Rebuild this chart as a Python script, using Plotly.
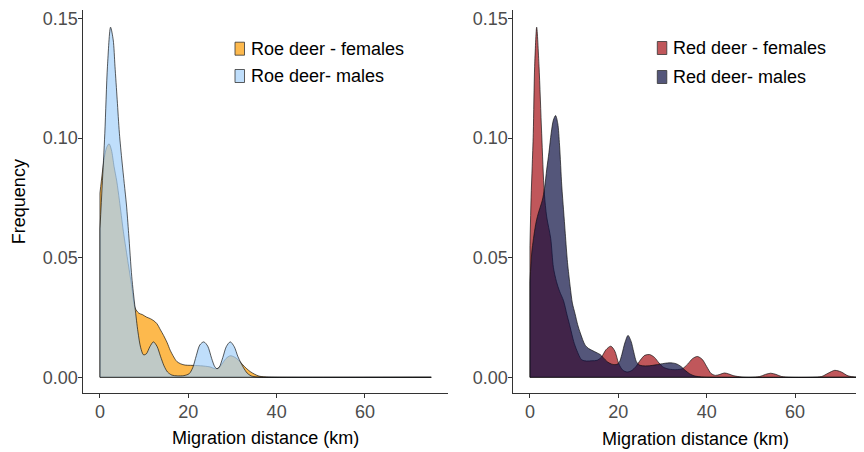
import plotly.graph_objects as go

# ---------------- data ----------------
# Roe deer - females (density)
roe_f_km = [0, 0.5, 1.0, 1.5, 2.05, 2.6, 3.2, 3.8, 4.4, 5.3, 6.4, 7.2, 7.95, 8.8, 9.6, 10.5,
            11.4, 12.2, 12.9, 13.7, 14.4, 15.2, 15.9, 16.7, 17.4, 18.3, 19.3, 20.5, 22.0, 23.5,
            25.0, 26.0, 26.8, 27.6, 28.5, 29.5, 30.4, 31.3, 32.2, 33.1, 34.0, 35.0, 36.0, 37.0,
            38.5, 40.0, 75.0]
roe_f_val = [0.077, 0.085, 0.092, 0.096, 0.0976, 0.095, 0.088, 0.082, 0.074, 0.061, 0.0475,
             0.038, 0.029, 0.0268, 0.0262, 0.0252, 0.0245, 0.0236, 0.0224, 0.0198, 0.0175,
             0.0145, 0.0113, 0.0085, 0.0066, 0.0056, 0.0051, 0.0050, 0.0049, 0.0047, 0.0043,
             0.0036, 0.0038, 0.0055, 0.0078, 0.0090, 0.0085, 0.0073, 0.0055, 0.0038, 0.0024,
             0.0013, 0.0005, 0.0002, 0.00005, 0.0, 0.0]

# Roe deer - males (density)
roe_m_km = [0, 0.5, 1.1, 1.7, 2.4, 3.0, 3.4, 3.9, 4.4, 5.0, 5.5, 6.0, 6.5, 7.2, 7.95, 8.6,
            9.2, 9.85, 10.5, 11.3, 12.1, 12.9, 13.7, 14.5, 15.3, 16.3, 17.5, 19.0, 20.2, 21.0,
            21.8, 22.6, 23.5, 24.4, 25.3, 26.0, 26.5, 27.0, 27.8, 28.6, 29.5, 30.4, 31.2, 31.8,
            32.5, 33.3, 34.2, 35.5, 37.0, 75.0]
roe_m_val = [0.062, 0.080, 0.102, 0.130, 0.1463, 0.141, 0.130, 0.116, 0.102, 0.090, 0.081,
             0.072, 0.060, 0.042, 0.029, 0.019, 0.0125, 0.0094, 0.0098, 0.0128, 0.0148, 0.0130,
             0.0088, 0.0048, 0.0022, 0.0009, 0.0006, 0.0007, 0.0015, 0.0040, 0.0090, 0.0135,
             0.0148, 0.0130, 0.0078, 0.0044, 0.0036, 0.0042, 0.0082, 0.0128, 0.0148, 0.0128,
             0.0088, 0.0064, 0.0040, 0.0018, 0.0006, 0.0001, 0.0, 0.0]

# Red deer - females (density)
red_f_km = [0, 0.25, 0.5, 0.75, 1.06, 1.52, 2.05, 2.65, 3.25, 3.8, 4.7, 5.3, 6.0, 6.7, 7.6,
            8.4, 9.1, 9.9, 10.6, 11.7, 12.8, 14.0, 15.2, 16.2, 17.2, 18.3, 19.2, 20.1, 21.0,
            22.0, 23.0, 24.0, 25.0, 26.0, 27.1, 28.2, 29.2, 30.2, 31.5, 33.0, 34.5, 35.7, 36.8,
            37.9, 39.0, 40.0, 41.0, 42.0, 43.0, 44.0, 45.0, 46.0, 48.0, 50.0, 52.0, 53.3, 54.5,
            55.7, 57.0, 59.0, 64.0, 66.0, 67.5, 69.0, 70.5, 72.0, 73.5, 75.0]
red_f_val = [0.055, 0.075, 0.088, 0.102, 0.130, 0.1463, 0.130, 0.102, 0.077, 0.067, 0.058,
             0.046, 0.040, 0.036, 0.032, 0.026, 0.021, 0.015, 0.0113, 0.0073, 0.0068, 0.0069,
             0.0071, 0.0085, 0.0115, 0.0130, 0.0110, 0.0057, 0.0030, 0.0022, 0.0028, 0.0045,
             0.0072, 0.0092, 0.0095, 0.0083, 0.0060, 0.0042, 0.0034, 0.0032, 0.0036, 0.0055,
             0.0078, 0.0087, 0.0075, 0.0045, 0.0016, 0.0008, 0.0012, 0.0018, 0.0014, 0.0007,
             0.0001, 0.0, 0.0003, 0.0012, 0.0017, 0.0012, 0.0003, 0.0, 0.0, 0.0003, 0.0017,
             0.0029, 0.0022, 0.0006, 0.0001, 0.0]

# Red deer - males (density)
red_m_km = [0, 0.4, 0.8, 1.3, 1.8, 2.3, 2.8, 3.3, 3.8, 4.3, 4.8, 5.3, 5.8, 6.3, 6.7, 7.2,
            7.6, 8.0, 8.5, 9.1, 9.6, 10.2, 10.8, 11.4, 12.5, 13.3, 14.0, 15.2, 15.9, 16.6,
            17.5, 18.5, 19.5, 20.2, 20.8, 21.5, 22.2, 22.9, 23.5, 24.1, 24.7, 25.5, 27.0,
            28.5, 30.0, 31.2, 32.2, 33.2, 34.2, 35.2, 36.2, 37.2, 38.5, 40.0, 75.0]
red_m_val = [0.040, 0.052, 0.058, 0.064, 0.068, 0.071, 0.074, 0.079, 0.087, 0.094, 0.102,
             0.1075, 0.1094, 0.106, 0.097, 0.080, 0.070, 0.060, 0.048, 0.038, 0.031, 0.0266,
             0.022, 0.0185, 0.0134, 0.0120, 0.0113, 0.0102, 0.0095, 0.0082, 0.0065, 0.0055,
             0.0053, 0.0062, 0.0095, 0.0145, 0.0175, 0.0150, 0.0105, 0.0065, 0.0052, 0.0048,
             0.0048, 0.0052, 0.0057, 0.0060, 0.0060, 0.0056, 0.0045, 0.0028, 0.0014, 0.0006,
             0.0002, 0.0, 0.0]

x_ticks = [0, 20, 40, 60]
y_ticks = [0.0, 0.05, 0.10, 0.15]
y_tick_text = ["0.00", "0.05", "0.10", "0.15"]

series = [
    # name, km, val, fill, axes
    ("Roe deer - females", roe_f_km, roe_f_val, "rgba(252,155,2,0.7)", "x", "y"),
    ("Roe deer- males", roe_m_km, roe_m_val, "rgba(164,208,249,0.7)", "x", "y"),
    ("Red deer - females", red_f_km, red_f_val, "rgba(165,15,21,0.7)", "x2", "y2"),
    ("Red deer- males", red_m_km, red_m_val, "rgba(12,14,66,0.7)", "x2", "y2"),
]

# The page body has an 8px margin, so the figure is drawn from (8, 8) of the window.
OFF = 8
W, H = 864 - OFF, 452 - OFF
FONT = "Liberation Sans, Arial, Helvetica, sans-serif"
OUTLINE = "rgba(15,15,15,0.9)"

fig = go.Figure()
for name, km, val, fill, xa, ya in series:
    fig.add_trace(go.Scatter(
        x=km, y=val, xaxis=xa, yaxis=ya, name=name, mode="lines",
        line=dict(color=OUTLINE, width=0.75, shape="spline", smoothing=0.8),
        fill="tozeroy", fillcolor=fill, showlegend=False, hoverinfo="x+y+name"))
    # left edge and baseline of the density outline
    fig.add_trace(go.Scatter(
        x=[km[0], km[0], km[-1]], y=[val[0], 0, 0], xaxis=xa, yaxis=ya, mode="lines",
        line=dict(color=OUTLINE, width=0.75), showlegend=False, hoverinfo="skip"))


# pixel helpers for layout (window pixel coordinates -> paper coordinates)
def px_x(p):
    return (p - OFF) / W


def px_y(p):
    return 1 - (p - OFF) / H


y_dom = [px_y(393.3), px_y(10)]
axis_common = dict(showline=True, linecolor="#333333", linewidth=1, ticks="outside",
                   ticklen=4, tickcolor="#333333", tickwidth=1, showgrid=False, zeroline=False,
                   ticklabeloverflow="allow",
                   tickfont=dict(family=FONT, size=18, color="#4D4D4D"))
x_axis_common = dict(ticklabelstandoff=-2, **axis_common)
y_axis_common = dict(ticklabelstandoff=-3, **axis_common)

fig.update_layout(
    width=W, height=H,
    margin=dict(l=0, r=0, t=0, b=0),
    paper_bgcolor="white", plot_bgcolor="white",
    font=dict(family=FONT, size=18, color="black"),
    xaxis=dict(domain=[px_x(83.4), px_x(447.8)], range=[-3.75, 78.75], tickvals=x_ticks,
               anchor="y", automargin=False,
               title=dict(text="Migration distance (km)", font=dict(size=18, color="black"),
                          standoff=10), **x_axis_common),
    yaxis=dict(domain=y_dom, range=[-0.00669, 0.1535], tickvals=y_ticks, ticktext=y_tick_text,
               anchor="x", automargin=False,
               title=dict(text="Frequency", font=dict(size=18, color="black"), standoff=12),
               **y_axis_common),
    xaxis2=dict(domain=[px_x(513.4), 1.0], range=[-3.75, 75.62], tickvals=x_ticks,
                anchor="y2", automargin=False, **x_axis_common),
    yaxis2=dict(domain=y_dom, range=[-0.00669, 0.1535], tickvals=y_ticks, ticktext=y_tick_text,
                anchor="x2", automargin=False, **y_axis_common),
    showlegend=False,
)

# right panel x title (panel is clipped at the right edge in the reference)
fig.add_annotation(text="Migration distance (km)", xref="paper", yref="paper",
                   x=px_x(695.6), y=px_y(439), xanchor="center", yanchor="middle",
                   showarrow=False, font=dict(family=FONT, size=18, color="black"))

# legends (keys + labels)
legend_spec = [
    (series[0], 235.0, 48.7), (series[1], 235.0, 76.0),
    (series[2], 657.3, 48.0), (series[3], 657.3, 77.0),
]
for (name, km, val, fill, xa, ya), kx, ky in legend_spec:
    fig.add_shape(type="rect", xref="paper", yref="paper",
                  x0=px_x(kx), x1=px_x(kx + 9.5), y0=px_y(ky + 6.5), y1=px_y(ky - 6.5),
                  fillcolor=fill, line=dict(color="#333333", width=0.8))
    fig.add_annotation(text=name, xref="paper", yref="paper", x=px_x(kx + 13.5), y=px_y(ky),
                       xanchor="left", yanchor="middle", showarrow=False,
                       font=dict(family=FONT, size=18, color="black"))

fig.write_html("out.html")
